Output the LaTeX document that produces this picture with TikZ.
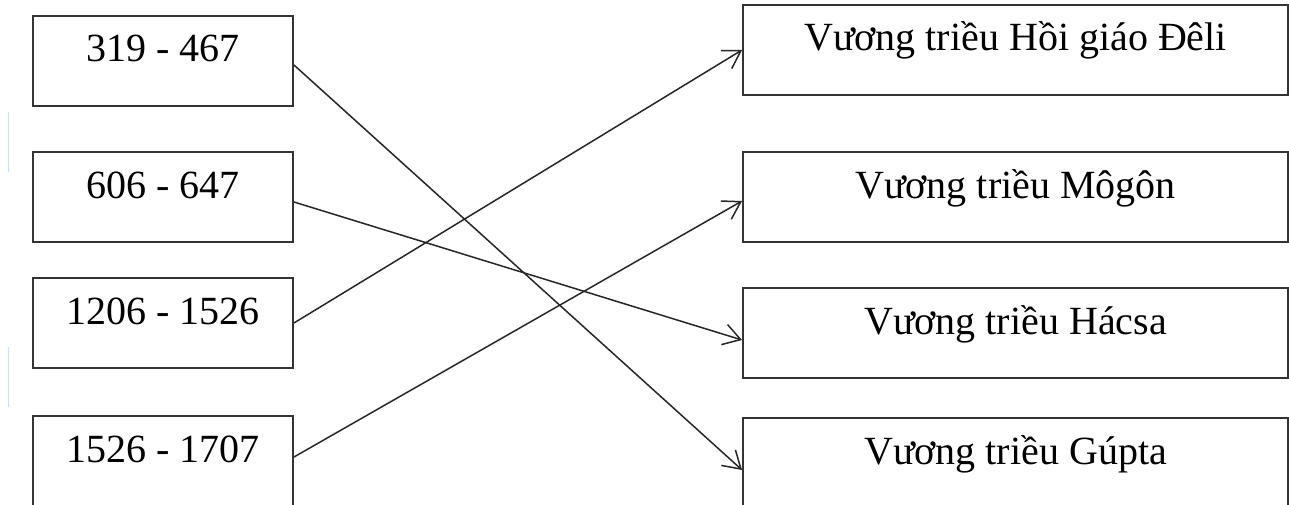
\documentclass[tikz,border=0pt]{standalone}
\usepackage{fontspec}
\setmainfont{Liberation Serif}
\usetikzlibrary{arrows.meta}
\tikzset{
         datebox/.style=
          {
           draw=black!80,line width=1.9pt,
           minimum width=260pt,inner xsep=0pt,inner ysep=20pt,
           text height=26pt,text depth=24pt,
           font=\fontsize{40}{48}\selectfont
          },
         dynbox/.style={datebox,minimum width=545pt},
         link/.style={line width=1.5pt,draw=black!85,-{Straight Barb[length=17pt,width=21pt,line width=1.5pt]}}
        }

\begin{document}
\begin{tikzpicture}[x=1pt,y=-1pt]

\useasboundingbox (0,0) rectangle (1289,505); % page size
\path[clip] (0,0) rectangle (1289,505); % cut the lower boxes

%%% faint marks on the left edge

\draw[line width=1pt,color={rgb,255:red,205;green,222;blue,240}] (8,112)--(8,172)(8,347)--(8,407);

%%% Dates on the left

\node[datebox] (d1) at (163,61) {319 - 467}; % first date
\node[datebox] (d2) at (163,197) {606 - 647}; % second date
\node[datebox] (d3) at (163,323) {1206 - 1526}; % third date
\node[datebox] (d4) at (163,461) {1526 - 1707}; % fourth date

%%% Dynasties on the right

\node[dynbox] (delhi) at (1015.5,50) {Vương triều Hồi giáo Đêli}; % Delhi
\node[dynbox] (mughal) at (1015.5,197) {Vương triều Môgôn}; % Mughal
\node[dynbox] (harsha) at (1015.5,333) {Vương triều Hácsa}; % Harsha
\node[dynbox] (gupta) at (1015.5,463) {Vương triều Gúpta}; % Gupta

%%% Matching arrows

\draw[link] ([yshift=-4pt]d1.east) -- ([yshift=-7pt]gupta.west); % 319 - 467
\draw[link] ([yshift=-5pt]d2.east) -- ([yshift=-7pt]harsha.west); % 606 - 647
\draw[link] (d3.east) -- (delhi.west); % 1206 - 1526
\draw[link] ([yshift=4pt]d4.east) -- ([yshift=-4pt]mughal.west); % 1526 - 1707
\end{tikzpicture}
\end{document}
